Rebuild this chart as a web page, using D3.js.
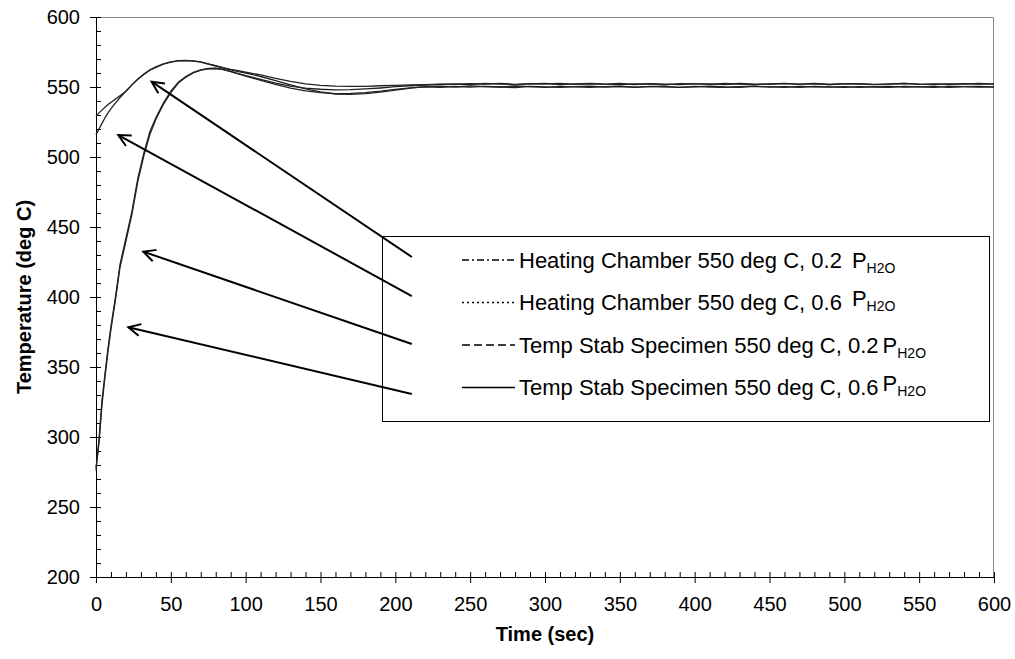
<!DOCTYPE html>
<html>
<head>
<meta charset="utf-8">
<script src="https://cdn.jsdelivr.net/npm/d3@7"></script>
<style>
	body { margin: 0; background: #fff; }
	svg { display: block; font-family: "Liberation Sans", Arial, sans-serif; }
</style>
</head>
<body>
<div id="chart"></div>
<script>
// time axis (sec), shared by all four series
const time = [0, 2, 4, 6, 8, 10, 13, 16, 20, 24, 28, 32, 36, 40, 45, 50, 55, 60, 65, 70, 75, 80, 85, 90, 95, 100,
	110, 120, 130, 140, 150, 160, 170, 180, 190, 200,
	210, 220, 230, 240, 250, 260, 270, 280, 290, 300,
	310, 320, 330, 340, 350, 360, 370, 380, 390, 400,
	410, 420, 430, 440, 450, 460, 470, 480, 490, 500,
	510, 520, 530, 540, 550, 560, 570, 580, 590, 600];

const chamber02 = [529, 531.5, 533.5, 535.5, 537.5, 539, 541.5, 543.8, 547, 551.5, 555.5, 559, 562, 564, 566.4, 567.8, 568.6, 568.8, 568.5, 567.9, 566.6, 565.2, 563.8, 562.6, 561.6, 560.6,
	558.6, 556.2, 554, 552.3, 551.2, 550.6, 550.4, 550.5, 550.9, 551.2,
	551.5, 551.7, 552.1, 551.8, 552.4, 552, 552.6, 551.9, 552.3, 552.5,
	551.8, 552.2, 552.6, 552, 551.7, 552.3, 552.1, 551.6, 552.4, 552.2,
	551.9, 552.5, 552, 551.7, 552.3, 552.6, 551.9, 552.2, 551.8, 552.4,
	552.1, 551.7, 552.3, 552.5, 551.9, 552.2, 551.8, 552.4, 552, 552.3];

const chamber06 = [516, 520, 524, 528, 531.5, 534.5, 538.5, 542.5, 547, 551.5, 555.8, 559.3, 562.2, 564.4, 566.6, 568, 568.8, 569, 568.6, 567.8, 566.4, 565, 563.5, 562.2, 561, 560,
	557.5, 554.5, 551.5, 548.6, 546.5, 545, 544.7, 545.3, 546.4, 547.8,
	549.2, 550.2, 550.6, 550.1, 550.8, 550.3, 550, 550.7, 550.2, 549.8,
	550.4, 550.1, 549.7, 550.3, 550.6, 549.9, 550.2, 550.5, 549.8, 550.1,
	550.6, 550, 549.7, 550.4, 550.2, 549.8, 550.5, 550.1, 549.9, 550.3,
	549.8, 550.2, 550.5, 549.9, 550.1, 550.4, 549.7, 550.2, 550.5, 549.9];

const specimen02 = [276, 298, 326, 345, 363, 379, 400, 423, 442, 461, 485, 503, 518, 528, 538.5, 547, 553.5, 557.5, 560.5, 562.3, 563.2, 563.4, 562.6, 561.2, 559.6, 558.2,
	555.5, 552.8, 550.6, 549.2, 548.4, 548, 548.1, 548.6, 549.3, 550.2,
	550.9, 551.4, 551.9, 552.3, 551.8, 552.5, 552.1, 551.7, 552.4, 552.2,
	552.6, 551.9, 552.3, 552, 552.5, 551.8, 552.4, 552.1, 551.7, 552.3,
	552.2, 551.8, 552.5, 552.1, 551.9, 552.4, 552, 552.6, 551.8, 552.2,
	552.4, 551.9, 552.1, 552.6, 552, 551.8, 552.3, 552.1, 552.5, 552];

const specimen06 = [278, 296, 323, 343, 361, 377, 398, 421, 440, 459, 483, 501, 516, 527, 537.5, 546, 552.8, 557, 560, 562, 563, 563.2, 562.4, 561, 559.3, 557.8,
	554.8, 551.8, 549.2, 547.3, 546, 545.3, 545.4, 546, 547, 548.3,
	549.4, 550.1, 549.7, 550.3, 549.9, 550.5, 550, 549.6, 550.4, 550.1,
	549.8, 550.3, 550.6, 549.9, 550.2, 549.7, 550.4, 550.1, 549.8, 550.5,
	550, 549.7, 550.3, 550.6, 549.9, 550.2, 549.8, 550.4, 550.1, 549.7,
	550.3, 550, 549.8, 550.5, 550.1, 549.7, 550.4, 550.2, 549.9, 550.1];

const seriesNames = ["Heating Chamber 550 deg C, 0.2", "Heating Chamber 550 deg C, 0.6", "Temp Stab Specimen 550 deg C, 0.2", "Temp Stab Specimen 550 deg C, 0.6"];
const seriesDash = ["7,3,2,3", "2,3", "8,4", null];

// arrows: head and tail in data units (sec, deg C)
const arrowHeads = [[37.2, 553.8], [14.9, 515.7], [31.6, 432.4], [21.6, 378.4]];
const arrowTails = [[211, 428.6], [211, 400.7], [211, 366.4], [211, 330.7]];

const xTicks = d3.range(0, 601, 50);
const yTicks = d3.range(200, 601, 50);

function createChart(container) {
	const margin = { top: 17, right: 21, bottom: 82, left: 96 };
	const W = 1015, H = 659;
	const width = W - margin.left - margin.right;
	const height = H - margin.top - margin.bottom;

	const svg = d3.select(container).append("svg").attr("width", W).attr("height", H);
	const g = svg.append("g").attr("transform", `translate(${margin.left},${margin.top})`);

	const x = d3.scaleLinear().domain([0, 600]).range([0, width]);
	const y = d3.scaleLinear().domain([200, 600]).range([height, 0]);

	// frame (top/right grey)
	g.append("path")
		.attr("d", `M0,0.5H${width - 0.5}V${height}`)
		.attr("fill", "none")
		.attr("stroke", "#888")
		.attr("stroke-width", 1);

	// minor ticks, inside
	g.append("g")
		.attr("transform", `translate(0,${height})`)
		.call(d3.axisBottom(x).tickValues(d3.range(0, 601, 10)).tickSize(-5).tickFormat(""))
		.call((a) => a.select(".domain").remove());
	g.append("g")
		.call(d3.axisLeft(y).tickValues(d3.range(200, 601, 10)).tickSize(-5).tickFormat(""))
		.call((a) => a.select(".domain").remove());

	// major axes
	const xAxis = g.append("g")
		.attr("transform", `translate(0,${height})`)
		.call(d3.axisBottom(x).tickValues(xTicks).tickSize(6).tickSizeOuter(0).tickPadding(14));
	const yAxis = g.append("g")
		.call(d3.axisLeft(y).tickValues(yTicks).tickSize(6).tickSizeOuter(0).tickPadding(10));
	[xAxis, yAxis].forEach((a) => {
		a.selectAll("text").attr("font-size", 20).attr("fill", "#000").attr("font-family", "Liberation Sans, Arial, sans-serif");
		a.selectAll("line, path").attr("stroke", "#000");
	});

	// series
	const line = d3.line()
		.x((d) => x(d[0]))
		.y((d) => y(d[1]));

	[chamber02, chamber06, specimen02, specimen06].forEach((vals) => {
		g.append("path")
			.datum(time.map((t, i) => [t, vals[i]]))
			.attr("fill", "none")
			.attr("stroke", "#222")
			.attr("stroke-width", 1.3)
			.attr("d", line);
	});

	// legend
	const lx = 286, ly = 219, lw = 607, lh = 185;
	g.append("rect")
		.attr("x", lx + 0.5).attr("y", ly + 0.5)
		.attr("width", lw).attr("height", lh)
		.attr("fill", "#fff")
		.attr("stroke", "#000");

	const rows = g.append("g")
		.selectAll("g")
		.data(seriesNames)
		.join("g")
		.attr("transform", (d, i) => `translate(${lx + 80},${ly + 24 + i * 42.5})`);

	rows.append("line")
		.attr("x1", 0).attr("x2", 53)
		.attr("stroke", "#000")
		.attr("stroke-width", 1.3)
		.attr("stroke-dasharray", (d, i) => seriesDash[i]);

	const txt = rows.append("text")
		.attr("x", 57)
		.attr("dy", "0.35em")
		.attr("font-size", 22)
		.attr("fill", "#000");
	txt.append("tspan").text((d) => d);
	txt.append("tspan")
		.attr("dx", (d, i) => (i < 2 ? 10 : 4))
		.attr("dy", (d, i) => (i % 2 ? -4 : 0))
		.text("P");
	txt.append("tspan")
		.attr("font-size", 14)
		.attr("dy", 5)
		.text("H2O");

	// arrows
	svg.append("defs").append("marker")
		.attr("id", "head")
		.attr("viewBox", "-14 -8 16 16")
		.attr("refX", 0).attr("refY", 0)
		.attr("markerWidth", 16).attr("markerHeight", 16)
		.attr("markerUnits", "userSpaceOnUse")
		.attr("orient", "auto-start-reverse")
		.append("path")
		.attr("d", "M-12,-6L0,0L-12,6")
		.attr("fill", "none")
		.attr("stroke", "#000")
		.attr("stroke-width", 2);

	g.append("g")
		.selectAll("line")
		.data(arrowHeads)
		.join("line")
		.attr("x1", (d) => x(d[0]))
		.attr("y1", (d) => y(d[1]))
		.attr("x2", (d, i) => x(arrowTails[i][0]))
		.attr("y2", (d, i) => y(arrowTails[i][1]))
		.attr("stroke", "#000")
		.attr("stroke-width", 2)
		.attr("marker-start", "url(#head)");

	// axis titles
	svg.append("text")
		.attr("x", margin.left + width / 2)
		.attr("y", 641)
		.attr("text-anchor", "middle")
		.attr("font-size", 20)
		.attr("font-weight", "bold")
		.text("Time (sec)");

	svg.append("text")
		.attr("transform", `translate(31,${margin.top + height / 2}) rotate(-90)`)
		.attr("text-anchor", "middle")
		.attr("font-size", 20)
		.attr("font-weight", "bold")
		.text("Temperature (deg C)");
}

createChart("#chart");
</script>
</body>
</html>
